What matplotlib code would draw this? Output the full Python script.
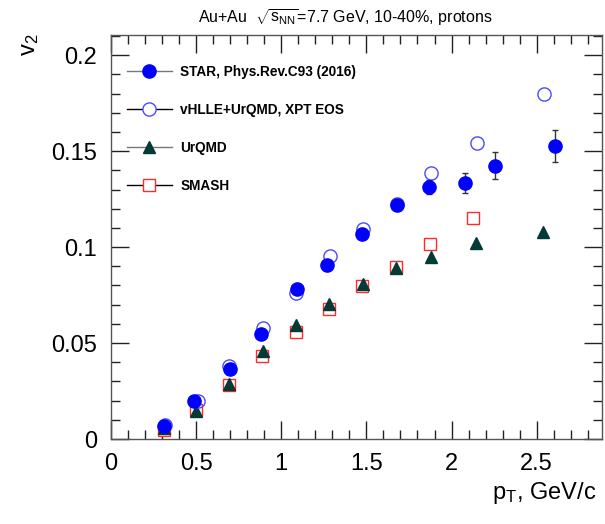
"""v2(pT) of protons, Au+Au 7.7 GeV: STAR data vs model curves."""

import matplotlib.pyplot as plt
from matplotlib.lines import Line2D
from matplotlib.ticker import MultipleLocator

plt.rcParams["font.family"] = ["Liberation Sans", "DejaVu Sans"]
plt.rcParams["mathtext.fontset"] = "custom"
plt.rcParams["mathtext.rm"] = "Liberation Sans"
plt.rcParams["mathtext.it"] = "Liberation Sans"
plt.rcParams["mathtext.sf"] = "Liberation Sans"

# STAR, Phys.Rev.C93 (2016)
star_pt = [0.313, 0.49, 0.696, 0.882, 1.092, 1.268, 1.476, 1.682, 1.868, 2.078, 2.255, 2.61]
star_v2 = [0.0069, 0.0199, 0.0364, 0.0547, 0.0781, 0.0907, 0.1069, 0.1220, 0.1315, 0.1333, 0.1423, 0.1528]
star_err = [0.0005, 0.0005, 0.0006, 0.0008, 0.0010, 0.0012, 0.0015, 0.0018, 0.0036, 0.0052, 0.0070, 0.0083]

# vHLLE+UrQMD, XPT EOS
vhlle_pt = [0.32, 0.51, 0.692, 0.892, 1.084, 1.284, 1.48, 1.682, 1.878, 2.147, 2.543]
vhlle_v2 = [0.0075, 0.0200, 0.0378, 0.0578, 0.0763, 0.0954, 0.1096, 0.1225, 0.1388, 0.1544, 0.1797]

# UrQMD
urqmd_pt = [0.313, 0.50, 0.692, 0.892, 1.084, 1.28, 1.48, 1.676, 1.878, 2.141, 2.539]
urqmd_v2 = [0.0055, 0.0144, 0.0286, 0.0456, 0.0595, 0.0704, 0.0808, 0.0890, 0.0947, 0.1023, 0.1080]

# SMASH
smash_pt = [0.31, 0.50, 0.692, 0.886, 1.084, 1.278, 1.476, 1.676, 1.872, 2.124]
smash_v2 = [0.0045, 0.0149, 0.0283, 0.0430, 0.0555, 0.0677, 0.0798, 0.0895, 0.1015, 0.1150]

BLUE = "#0000ff"
OPEN_BLUE = "#4a4aff"
TEAL = "#033a36"
RED = "#ff2a2a"

fig = plt.figure(figsize=(6.05, 5.24), dpi=100)
ax = fig.add_axes([0.1835, 0.1622, 0.8116, 0.771])

ax.plot(smash_pt, smash_v2, ls="none", marker="s", ms=8, mfc="white",
        mec=RED, mew=1.0, zorder=3)
ax.plot(urqmd_pt, urqmd_v2, ls="none", marker="^", ms=9, color=TEAL, zorder=4)
ax.plot(vhlle_pt, vhlle_v2, ls="none", marker="o", ms=9.5, mfc="none",
        mec=OPEN_BLUE, mew=1.0, zorder=5)
ax.errorbar(star_pt, star_v2, yerr=star_err, fmt="o", ms=9.5, color=BLUE,
            ecolor="#333333", elinewidth=1.0, capsize=2.5, capthick=1.0, zorder=6)

ax.set_xlim(0, 2.884)
ax.set_ylim(0, 0.2105)
ax.xaxis.set_minor_locator(MultipleLocator(0.1))
ax.yaxis.set_minor_locator(MultipleLocator(0.01))
ax.set_xticks([0, 0.5, 1, 1.5, 2, 2.5])
ax.set_xticklabels(["0", "0.5", "1", "1.5", "2", "2.5"])
ax.set_yticks([0, 0.05, 0.1, 0.15, 0.2])
ax.set_yticklabels(["0", "0.05", "0.1", "0.15", "0.2"])

ax.tick_params(which="both", direction="in", top=True, right=True,
               labelsize=17, colors="#222222", labelcolor="black")
ax.tick_params(which="major", length=13, width=1.0, pad=10)
ax.tick_params(which="minor", length=6.5, width=1.0)
for s in ax.spines.values():
    s.set_color("#555555")
    s.set_linewidth(1.0)

fig.text(0.985, 0.035, r"p$_\mathrm{T}$, GeV/c", ha="right", va="bottom", fontsize=17)
fig.text(0.05, 0.935, r"v$_\mathrm{2}$", ha="center", va="top", fontsize=17, rotation=90)
fig.text(0.571, 0.965, r"Au+Au  $\sqrt{\mathrm{s_{NN}}}$=7.7 GeV, 10-40%, protons",
         ha="center", va="center", fontsize=11.5)

handles = [
    Line2D([], [], color="#777777", lw=1.0, marker="o", ms=9.5, mfc=BLUE, mec=BLUE),
    Line2D([], [], color="black", lw=1.0, marker="o", ms=9.5, mfc="white", mec=OPEN_BLUE),
    Line2D([], [], color="#777777", lw=1.0, marker="^", ms=9, mfc=TEAL, mec=TEAL),
    Line2D([], [], color="black", lw=1.0, marker="s", ms=8, mfc="white", mec=RED),
]
labels = ["STAR, Phys.Rev.C93 (2016)", "vHLLE+UrQMD, XPT EOS", "UrQMD", "SMASH"]
ax.legend(handles, labels, loc="upper left", bbox_to_anchor=(0.0326, 0.926),
          frameon=False, borderpad=0, borderaxespad=0, handlelength=3.3,
          handletextpad=0.6, labelspacing=1.76,
          prop={"weight": "bold", "size": 9.8})

fig.savefig("out.png", dpi=100)
